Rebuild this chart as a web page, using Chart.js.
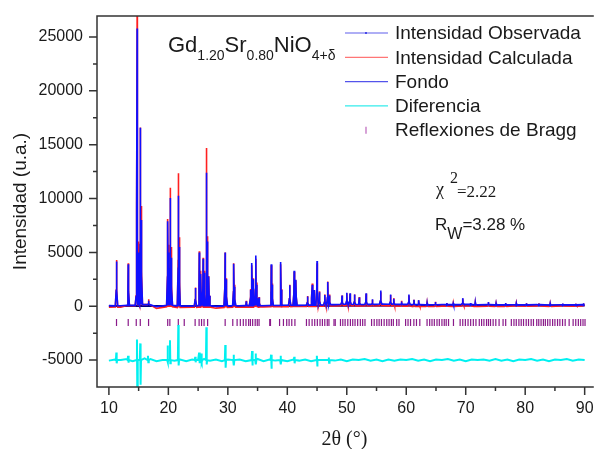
<!DOCTYPE html>
<html lang="es">
<head>
<meta charset="UTF-8">
<title>Gd1.20Sr0.80NiO4+d - Rietveld</title>
<script src="https://cdn.jsdelivr.net/npm/chart.js"></script>
<style>
    * { margin: 0; padding: 0; box-sizing: border-box; }
    body { background: #fff; width: 597px; height: 449px; overflow: hidden; }
    .wrap { position: relative; width: 597px; height: 449px; }
</style>
</head>
<body>
<div class="wrap"><canvas id="rietveld"></canvas></div>
<script>
// --- data ---
// baseline grid (2 theta, every 2 degrees)
const baseX = [10, 12, 14, 16, 18, 20, 22, 24, 26, 28, 30, 32, 34, 36, 38, 40, 42, 44, 46, 48, 50,
               52, 54, 56, 58, 60, 62, 64, 66, 68, 70, 72, 74, 76, 78, 80, 82, 84, 86, 88, 90];
const obsBase = [60, 40, 80, 150, -50, 80, 30, 20, 60, -20, 30, 40, 60, 50, 70, 90, 80, 100, 120, 150, 180,
                 160, 170, 200, 180, 170, 150, 140, 160, 150, 170, 140, 150, 130, 140, 130, 150, 120, 140, 130, 150];
const calcBase = [-100, -80, 60, 150, -200, -60, -120, -100, -80, -180, -120, -100, -80, -60, -50, -40, -30, -20, 0, 20, 40,
                  30, 20, 40, 30, 10, -30, -20, 10, -10, 20, -20, 10, -10, 20, 0, 30, -10, 20, 0, 30];

// reflections: position, observed height, calculated height
const peakPos = [11.28, 13.25, 14.62, 14.75, 14.95, 15.30, 15.45, 16.67, 19.90, 20.05, 20.33, 20.50, 21.70, 21.85,
                 24.55, 25.20, 25.45, 25.85, 26.10, 26.42, 26.55, 26.80, 29.55, 29.75, 31.00, 31.15, 33.10,
                 33.80, 34.05, 34.30, 34.70, 34.90, 35.25, 37.30, 37.45, 38.90, 39.05, 40.40, 41.15, 41.45,
                 43.40, 44.20, 44.50, 45.00, 45.40, 46.30, 46.80, 47.10, 49.20, 50.00, 50.55, 51.30, 52.10,
                 53.25, 54.30, 55.70, 57.35, 57.90, 59.20, 60.45, 61.30, 62.10, 63.50, 64.90, 66.80, 67.90,
                 69.50, 70.80, 71.60, 73.80, 75.10, 76.70, 78.50, 80.20, 82.30, 84.20, 86.30, 88.50, 89.80];
const obsPeak = [4150, 3900, 2500, 25800, 5000, 16570, 8000, 500, 7900, 5000, 10060, 4500, 10250, 5500,
                 1700, 5000, 3000, 4400, 3100, 12400, 6000, 2750, 5000, 2500, 3950, 1800, 450,
                 1500, 4020, 2500, 4700, 2000, 800, 3900, 2000, 4100, 1500, 1950, 3300, 2450,
                 900, 2000, 1500, 4200, 1300, 1050, 2250, 1000, 1000, 1250, 1200, 1100, 800,
                 1200, 650, 1450, 1100, 700, 450, 1080, 600, 560, 300, 400, 300, 250,
                 750, 300, 350, 400, 250, 300, 250, 280, 250, 230, 250, 220, 280];
const calcPeak = [4300, 4000, 2800, 27500, 6000, 16600, 9300, 650, 8100, 5700, 11000, 5500, 12350, 6400,
                  1750, 5100, 3300, 4500, 3300, 14700, 6500, 2800, 5000, 2600, 4000, 2000, 500,
                  1600, 3800, 2600, 4400, 2200, 850, 3800, 2100, 3900, 1600, 2000, 3200, 2400,
                  950, 2100, 1500, 4000, 1400, 1100, 2300, 1100, 1000, 1200, 1150, 1100, 850,
                  1150, 600, 1300, 1050, 750, 500, 1000, 600, 550, 320, 420, 300, 270,
                  700, 300, 330, 380, 250, 280, 260, 270, 260, 240, 240, 230, 260];

// background (Fondo)
const bgX = [10, 30, 50, 70, 90];
const bgY = [30, 20, 40, 60, 60];

// difference curve, 1 degree grid
const diffX = [10, 11, 12, 13, 14, 15, 16, 17, 18, 19, 20, 21, 22, 23, 24, 25, 26, 27, 28, 29, 30,
               31, 32, 33, 34, 35, 36, 37, 38, 39, 40, 41, 42, 43, 44, 45, 46, 47, 48, 49, 50,
               51, 52, 53, 54, 55, 56, 57, 58, 59, 60, 61, 62, 63, 64, 65, 66, 67, 68, 69, 70,
               71, 72, 73, 74, 75, 76, 77, 78, 79, 80, 81, 82, 83, 84, 85, 86, 87, 88, 89, 90];
const diffY = [-5050, -4950, -5000, -4900, -5100, -5000, -4850, -4900, -5100, -5000, -4900, -5050, -4950, -5100, -4950, -5000, -4900, -5050, -4950, -5100, -4950,
               -5050, -4950, -5100, -5000, -4900, -5100, -4950, -5050, -4900, -5100, -4950, -5050, -4950, -5100, -4950, -5000, -4900, -5050, -4950, -5100,
               -4950, -5000, -4900, -5050, -4950, -5100, -4950, -5050, -4950, -5000, -4900, -5050, -4950, -5100, -4950, -5000, -4900, -5050, -4950, -5100,
               -4950, -5000, -4950, -5050, -4900, -5050, -4950, -5100, -4950, -5000, -4900, -5050, -4950, -5100, -4950, -5000, -4900, -5050, -4950, -5000];
// spikes in the difference: position, upper value, lower value
const diffSpikePos = [11.28, 13.25, 14.75, 15.30, 16.60, 19.90, 20.30, 21.70, 24.55, 25.20, 25.60, 26.42,
                      29.60, 31.00, 34.10, 34.70, 37.30, 38.90, 41.20, 45.00, 47.00];
const diffSpikeUp = [-4300, -4600, -3100, -3450, -4600, -3650, -3150, -1750, -4700, -4300, -4400, -1950,
                     -3600, -4500, -4150, -4400, -4500, -4600, -4700, -4600, -4750];
const diffSpikeDown = [-5300, -5250, -8200, -7300, -5200, -5200, -5300, -5500, -5200, -5300, -5200, -5400,
                       -5700, -5500, -5500, -5400, -5800, -5400, -5300, -5600, -5250];
const diffLevel = -5000;

// Bragg reflection markers
const braggLevel = -1500;
const braggPos = [11.28, 13.25, 14.6, 15.28, 16.67, 19.89, 20.25, 21.67, 22.67, 24.5, 25.17, 25.58, 26.0, 26.6,
                  29.55, 30.83, 31.56, 32.1, 32.6, 33.05, 33.5, 33.8, 34.17, 34.6, 34.95, 35.25, 37.05, 37.17,
                  38.7, 39.35, 39.9, 40.3, 40.75, 41.28, 43.22, 43.67, 44.17, 44.61, 45.05, 45.5, 45.9, 46.3,
                  46.72, 47.0, 47.85, 48.06, 48.94, 49.33, 49.72, 50.17, 50.61, 51.0, 51.39, 51.83, 52.28, 52.67,
                  53.06, 54.17, 54.61, 55.06, 55.44, 55.83, 56.28, 56.72, 57.11, 57.5, 57.83, 58.39, 58.78,
                  59.89, 60.3, 60.72, 61.28, 61.72, 62.28, 63.5, 63.94, 64.33, 64.72, 65.17, 65.56, 66.0,
                  66.39, 66.72, 67.11, 67.94, 69.06, 69.5, 69.94, 70.39, 70.83, 71.28, 71.72, 72.28, 72.67,
                  73.06, 73.5, 73.83, 74.17, 74.61, 75.06, 75.61, 76.28, 76.72, 77.67, 78.11, 78.5, 78.94,
                  79.33, 79.72, 80.17, 80.56, 81.0, 81.39, 81.94, 82.28, 82.67, 83.06, 83.39, 83.78, 84.17,
                  84.61, 85.0, 85.44, 85.83, 86.28, 86.72, 87.39, 88.06, 88.5, 88.94, 89.33, 89.72, 90.06];

// axis ticks
const xTicks = [10, 20, 30, 40, 50, 60, 70, 80, 90];
const xMinor = [15, 25, 35, 45, 55, 65, 75, 85];
const yTicks = [-5000, 0, 5000, 10000, 15000, 20000, 25000];
const yMinor = [-2500, 2500, 7500, 12500, 17500, 22500];

const SANS = "'Liberation Sans', Arial, sans-serif";
const SERIF = "'Liberation Serif', 'Times New Roman', serif";

// peaks as narrow spikes sitting on the baseline
function buildProfile(base, heights) {
    const step = baseX[1] - baseX[0];
    const pts = baseX.map((x, i) => ({ x: x, y: base[i] }));
    peakPos.forEach((p, i) => {
        const b = base[Math.round((p - baseX[0]) / step)];
        pts.push({ x: p - 0.2, y: b }, { x: p - 0.05, y: heights[i] * 0.35 }, { x: p, y: heights[i] },
                 { x: p + 0.05, y: heights[i] * 0.35 }, { x: p + 0.2, y: b });
    });
    return pts.sort((a, b) => a.x - b.x);
}

function buildDiff() {
    const pts = diffX.map((x, i) => ({ x: x, y: diffY[i] }));
    diffSpikePos.forEach((p, i) => {
        pts.push({ x: p - 0.1, y: diffLevel }, { x: p - 0.03, y: diffSpikeUp[i] },
                 { x: p + 0.03, y: diffSpikeDown[i] }, { x: p + 0.1, y: diffLevel });
    });
    return pts.sort((a, b) => a.x - b.x);
}

// frame, tick marks, legend and annotations
const decorations = {
    id: 'decorations',
    afterDraw(chart) {
        const ctx = chart.ctx;
        const a = chart.chartArea;
        const xs = chart.scales.x, ys = chart.scales.y;
        ctx.save();
        ctx.strokeStyle = '#333';
        ctx.lineWidth = 1.5;
        ctx.beginPath();
        ctx.moveTo(a.right + 2, a.top); ctx.lineTo(a.left, a.top);
        ctx.lineTo(a.left, a.bottom); ctx.lineTo(a.right + 2, a.bottom);
        xTicks.forEach(v => { const px = xs.getPixelForValue(v); ctx.moveTo(px, a.bottom); ctx.lineTo(px, a.bottom + 8); });
        xMinor.forEach(v => { const px = xs.getPixelForValue(v); ctx.moveTo(px, a.bottom); ctx.lineTo(px, a.bottom + 4); });
        yTicks.forEach(v => { const py = ys.getPixelForValue(v); ctx.moveTo(a.left, py); ctx.lineTo(a.left - 8, py); });
        yMinor.forEach(v => { const py = ys.getPixelForValue(v); ctx.moveTo(a.left, py); ctx.lineTo(a.left - 4, py); });
        ctx.stroke();

        // axis titles
        ctx.fillStyle = '#1a1a1a';
        ctx.textBaseline = 'middle';
        ctx.textAlign = 'center';
        ctx.font = '19px ' + SANS;
        ctx.save();
        ctx.translate(21, (a.top + a.bottom) / 2);
        ctx.rotate(-Math.PI / 2);
        ctx.fillText('Intensidad (u.a.)', 0, 0);
        ctx.restore();
        ctx.textBaseline = 'alphabetic';
        ctx.font = '20px ' + SERIF;
        ctx.fillText('2\u03B8 (\u00B0)', (a.left + a.right) / 2, 445);

        // legend
        ctx.textAlign = 'left';
        const rows = [
            { text: 'Intensidad Observada', color: 'rgba(40,40,230,0.75)', kind: 'dot' },
            { text: 'Intensidad Calculada', color: 'rgba(255,60,60,0.7)', kind: 'line' },
            { text: 'Fondo', color: 'rgba(40,40,230,0.8)', kind: 'line' },
            { text: 'Diferencia', color: 'rgba(0,230,230,0.8)', kind: 'line' },
            { text: 'Reflexiones de Bragg', color: 'rgba(170,60,170,0.8)', kind: 'tick' }
        ];
        rows.forEach((r, i) => {
            const y = 33 + i * 24.3;
            ctx.strokeStyle = r.color;
            ctx.lineWidth = 1.2;
            ctx.beginPath();
            if (r.kind === 'tick') {
                ctx.moveTo(366, y - 3.5); ctx.lineTo(366, y + 3.5);
            } else {
                ctx.moveTo(345, y); ctx.lineTo(388, y);
            }
            ctx.stroke();
            if (r.kind === 'dot') {
                ctx.fillStyle = r.color;
                ctx.fillRect(365, y - 1, 2, 2);
            }
            ctx.fillStyle = '#1a1a1a';
            ctx.font = '19px ' + SANS;
            ctx.textBaseline = 'middle';
            ctx.fillText(r.text, 395, y + 1);
        });

        // formula and fit statistics
        ctx.textBaseline = 'alphabetic';
        const run = (x, parts) => {
            parts.forEach(p => {
                ctx.font = p.f;
                ctx.fillText(p.t, x, p.y);
                x += ctx.measureText(p.t).width;
            });
        };
        const big = '22px ' + SANS, small = '14px ' + SANS;
        run(168, [
            { t: 'Gd', f: big, y: 51.5 }, { t: '1.20', f: small, y: 59.5 },
            { t: 'Sr', f: big, y: 51.5 }, { t: '0.80', f: small, y: 59.5 },
            { t: 'NiO', f: big, y: 51.5 }, { t: '4+\u03B4', f: small, y: 59.5 }
        ]);
        ctx.font = '18px ' + SERIF;
        ctx.fillText('\u03C7', 436, 195);
        ctx.font = '16px ' + SERIF;
        ctx.fillText('2', 450, 183);
        ctx.font = '17px ' + SERIF;
        ctx.fillText('=2.22', 457, 197);
        run(435, [
            { t: 'R', f: '17px ' + SANS, y: 230 },
            { t: 'W', f: '16px ' + SANS, y: 238.5 },
            { t: '=3.28 %', f: '17px ' + SANS, y: 230 }
        ]);
        ctx.restore();
    }
};

const ctx = document.getElementById('rietveld').getContext('2d');
const chart = new Chart(ctx, {
    type: 'line',
    data: {
        datasets: [
            {
                label: 'Intensidad Observada',
                data: buildProfile(obsBase, obsPeak),
                borderColor: '#1010ff',
                borderWidth: 1.6,
                pointRadius: 0,
                tension: 0
            },
            {
                label: 'Intensidad Calculada',
                data: buildProfile(calcBase, calcPeak),
                borderColor: '#ff2020',
                borderWidth: 1.6,
                pointRadius: 0,
                tension: 0
            },
            {
                label: 'Fondo',
                data: bgX.map((x, i) => ({ x: x, y: bgY[i] })),
                borderColor: '#000080',
                borderWidth: 2,
                pointRadius: 0
            },
            {
                label: 'Diferencia',
                data: buildDiff(),
                borderColor: '#00f0f0',
                borderWidth: 2,
                pointRadius: 0,
                tension: 0
            },
            {
                label: 'Reflexiones de Bragg',
                data: braggPos.map(p => ({ x: p, y: braggLevel })),
                showLine: false,
                pointStyle: 'line',
                rotation: 90,
                pointRadius: 3.5,
                pointBorderColor: '#8a1a8a',
                pointBorderWidth: 1.2,
                borderColor: '#8a1a8a'
            }
        ]
    },
    options: {
        responsive: true,
        maintainAspectRatio: false,
        animation: false,
        events: [],
        layout: { padding: { top: 16, right: 0, left: 0, bottom: 0 } },
        plugins: { legend: { display: false }, tooltip: { enabled: false } },
        scales: {
            x: {
                type: 'linear',
                min: 8,
                max: 91.2,
                grid: { display: false, drawTicks: false },
                border: { display: false },
                afterBuildTicks: s => { s.ticks = xTicks.map(v => ({ value: v })); },
                afterFit: s => { s.height = 62; s.paddingLeft = 0; s.paddingRight = 0; },
                ticks: { color: '#1a1a1a', font: { family: SANS, size: 16 }, padding: 12, maxRotation: 0, autoSkip: false,
                         callback: v => String(v) }
            },
            y: {
                type: 'linear',
                min: -7500,
                max: 26950,
                grid: { display: false, drawTicks: false },
                border: { display: false },
                afterBuildTicks: s => { s.ticks = yTicks.map(v => ({ value: v })); },
                afterFit: s => { s.width = 97; s.paddingTop = 0; s.paddingBottom = 0; },
                ticks: { color: '#1a1a1a', font: { family: SANS, size: 16 }, padding: 14, callback: v => String(v) }
            }
        }
    },
    plugins: [decorations]
});
</script>
</body>
</html>
